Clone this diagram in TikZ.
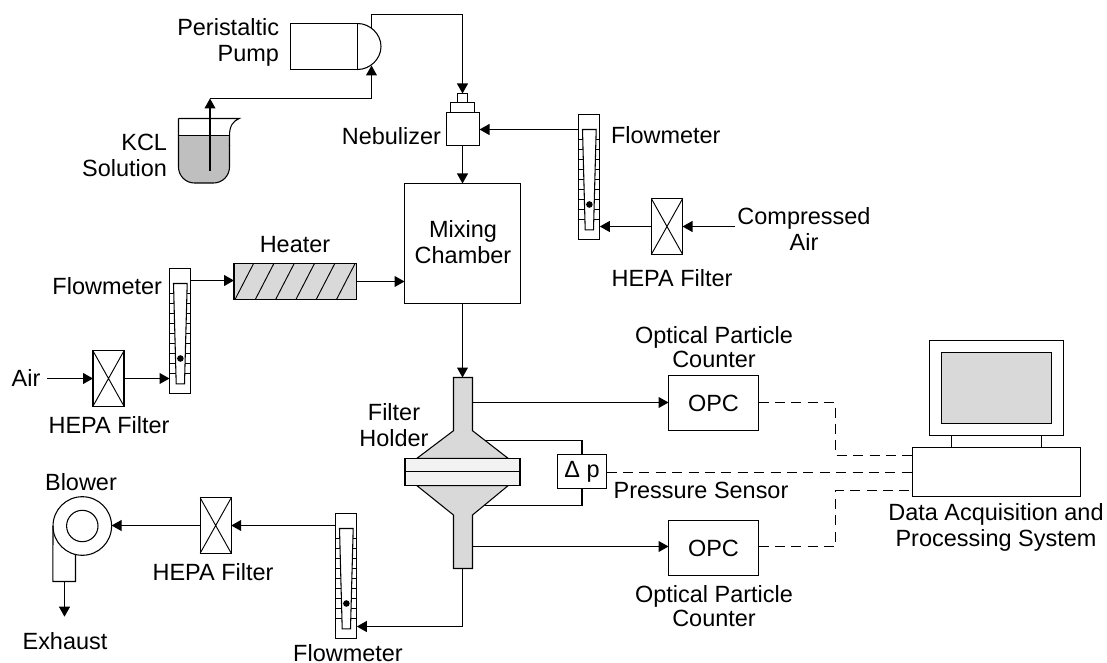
\documentclass[tikz,border=0pt]{standalone}
\usepackage{fontspec}
\setmainfont{Liberation Sans}
\usetikzlibrary{arrows.meta}
\definecolor{fillgrey}{HTML}{D9D9D9}
\definecolor{liquid}{HTML}{BFBFBF}
\definecolor{plate}{HTML}{F2F2F2}
\tikzset{
  boxst/.style={draw,line width=0.8pt,inner sep=0pt,outer sep=0pt,align=center,font=\fontsize{17.6}{19.5}\selectfont},
  lbl/.style={inner sep=0pt,outer sep=0pt,align=center,font=\fontsize{17.6}{19.5}\selectfont},
  lblr/.style={lbl,align=right},
  lblone/.style={inner sep=0pt,outer sep=0pt,font=\fontsize{17.6}{19.5}\selectfont},
  lbltight/.style={inner sep=0pt,outer sep=0pt,align=center,font=\fontsize{17.6}{18.3}\selectfont},
  arr/.style={draw,line width=0.8pt,-{Triangle[length=7.5pt,width=8.2pt]}},
  pipe/.style={draw,line width=0.8pt},
  sig/.style={draw,line width=0.8pt,dash pattern=on 7.5pt off 4.8pt},
}
% [opts]{name}{x1}{y1}{x2}{y2}{text}
\newcommand\bx[7][]{\node[boxst,#1,minimum width={(#5-#3)*0.75pt},minimum height={(#6-#4)*0.75pt}] (#2) at ({(#3+#5)/2},{(#4+#6)/2}) {#7};}
% {name}{x}{y}
\newcommand\hepa[3]{%
  \node[boxst,minimum width={31*0.75pt},minimum height={55.3*0.75pt}] (#1) at (#2,#3) {};
  \draw[line width=0.7pt] (#1.north west) -- (#1.south east) (#1.north east) -- (#1.south west);
}
\newcommand\flowmeter[3]{%
  \node[boxst,minimum width={21.3*0.75pt},minimum height={125.3*0.75pt},anchor=north west] (#1) at (#2,#3) {};
  \begin{scope}[shift={(#2,#3)}]
    \foreach \yy in {25,35,...,105} \draw[line width=0.7pt] (0,\yy) -- (21.3,\yy);
    \draw[line width=0.8pt,fill=white] (4,15) -- (17.7,15) -- (15,115.3) -- (6.7,115.3) -- cycle;
    \node[circle,fill=black,inner sep=0pt,minimum size={6.6*0.75pt}] (#1ball) at (10.9,90) {};
    \coordinate (#1tr) at (21.3,12);
  \end{scope}
}
\begin{document}
\begin{tikzpicture}[x=0.75pt,y=-0.75pt]
\useasboundingbox (0,0) rectangle (1107,663);

% Pump
\bx{pump}{290.5}{23.5}{357.5}{69.5}{}
\draw[line width=0.8pt] (pump.north east) .. controls (370,23.5) and (381,34) .. (381,46.5) .. controls (381,59) and (370,69.5) .. (pump.south east);
\coordinate (pumpout) at (371.5,29.5);
\coordinate (pumpin) at (371.5,65.5);
\node[lblr,anchor=east] (pumplbl) at (279,42) {Peristaltic\\Pump};

% Beaker
\fill[liquid,rounded corners=12pt] (178.7,125) -- (178.7,183) -- (229.3,183) -- (229.3,125) -- cycle;
\fill[white] (170,110) rectangle (240,135.5);
\draw[line width=0.8pt,rounded corners=12pt] (178.5,118.5) -- (178.5,183) -- (229.5,183) -- (229.5,145);
\draw[line width=0.8pt] (229.5,146) -- (229.5,135.5) .. controls (229.5,126) and (233,121) .. (239.3,118.5) -- (178.5,118.5);
\draw[line width=0.8pt] (178.5,135.5) -- (229.5,135.5);
\coordinate (beakerin) at (210,170.7);
\coordinate (beakertop) at (210,98.5);
\node[lblr,anchor=east] (kcl) at (167,155) {KCL\\Solution};
\draw[arr] (beakerin) -- (beakertop);
\draw[pipe] (beakertop) -- (pumpin |- beakertop);
\draw[arr] (pumpin |- beakertop) -- (pumpin);

% Nebulizer
\bx{nebtop}{457.5}{93.5}{467.5}{102.5}{}
\bx{nebmid}{450.5}{102.5}{474.5}{112.5}{}
\bx{neb}{446.5}{112.5}{479.5}{145.5}{}
\node[lbl,anchor=east] (neblbl) at (441,136) {Nebulizer};
\coordinate (pumpup) at (371.5,14.5);
\draw[arr] (pumpout) -- (pumpup) -- (pumpup -| nebtop.north) -- (nebtop.north);

% Mixing chamber
\bx{mix}{404.5}{183.5}{520.5}{303.5}{}
\node[lbl] (mixlbl) at (463,242) {Mixing\\Chamber};
\draw[arr] (neb.south -| nebtop.north) -- (nebtop.north |- mix.north);

% Top flowmeter
\flowmeter{fma}{578.5}{114.5}
\node[lbl,anchor=west] (fmalbl) at (611,135) {Flowmeter};
\draw[arr] (fma.north west |- 0,129.5) -- (neb.east |- 0,129.5);
\hepa{fila}{667}{226.5}
\node[lbl] (filalbl) at (672,278) {HEPA Filter};
\node[lbl] (air1) at (804,229) {Compressed\\Air};
\coordinate (air1out) at (735,226.5);
\draw[arr] (air1out) -- (fila.east);
\draw[arr] (fila.west) -- (fila.west -| fma.east);

% Left flowmeter + heater
\flowmeter{fmb}{169.5}{268.5}
\node[lbl,anchor=east] (fmblbl) at (162,286) {Flowmeter};
\bx[fill=fillgrey]{heat}{234}{263.5}{356.5}{299.5}{}
\foreach \k in {0,...,5} \draw[line width=0.7pt] ({235+\k*20.3},299.5) -- ({235+\k*20.3+18.6},263.5);
\node[lbl] (heatlbl) at (295,245) {Heater};
\draw[arr] (fmbtr) -- (fmbtr -| heat.west);
\draw[arr] (heat.east) -- (heat.east -| mix.west);
\hepa{filb}{108.5}{378.5}
\node[lbl] (filblbl) at (109,425) {HEPA Filter};
\node[lbl] (airlbl) at (26,378) {Air};
\coordinate (airout) at (47,378.5);
\draw[arr] (airout) -- (filb.west);
\draw[arr] (filb.east) -- (filb.east -| fmb.west);

% Filter holder
\draw[line width=0.8pt,fill=fillgrey] (453.5,377.5) -- (472.5,377.5) -- (472.5,430.7) -- (508.3,458.5) -- (416.7,458.5) -- (453.5,430.7) -- cycle;
\draw[line width=0.8pt,fill=fillgrey] (416.7,485.5) -- (508.3,485.5) -- (472.5,515) -- (472.5,568.5) -- (453.5,568.5) -- (453.5,515) -- cycle;
\bx[fill=plate]{platea}{405}{458.5}{520}{471.5}{}
\bx[fill=plate]{plateb}{405}{471.5}{520}{485.5}{}
\coordinate (holdertop) at (462.5,377.5);
\coordinate (holderbot) at (462.5,568.5);
\coordinate (tapa) at (472.5,402.5);
\coordinate (tapb) at (472.5,546.5);
\coordinate (tapc) at (485,440.5);
\coordinate (tapd) at (485,505.5);
\node[lbl] (holderlbl) at (394,425) {Filter\\Holder};
\draw[arr] (mix.south -| holdertop) -- (holdertop);

% Pressure sensor
\bx{dp}{557.5}{454.5}{606.5}{488.5}{Δ p}
\draw[pipe] (tapc) -- (tapc -| dp.north) -- (dp.north);
\draw[pipe] (tapd) -- (tapd -| dp.south) -- (dp.south);
\node[lbl] (dplbl) at (701,490) {Pressure Sensor};

% OPCs
\bx{opca}{668.5}{375.5}{758.5}{430.5}{OPC}
\bx{opcb}{668.5}{520.5}{758.5}{575.5}{OPC}
\node[lbltight] (opcalbl) at (714,347) {Optical Particle\\Counter};
\node[lbltight] (opcblbl) at (714,606) {Optical Particle\\Counter};
\draw[arr] (tapa) -- (tapa -| opca.west);
\draw[arr] (tapb) -- (tapb -| opcb.west);

% Computer
\bx{mon}{929.5}{340.5}{1063.5}{435.5}{}
\bx[fill=fillgrey]{screen}{941.5}{352.5}{1051.5}{423.5}{}
\bx{base}{912.5}{447.5}{1080.5}{496.5}{}
\coordinate (standa) at (951.5,435.5);
\coordinate (standb) at (1041.5,435.5);
\draw[pipe] (standa) -- (standa |- base.north);
\draw[pipe] (standb) -- (standb |- base.north);
\node[lbl] (baselbl) at (996,527) {Data Acquisition and\\Processing System};

% Signals
\coordinate (busa) at (835.5,455.5);
\coordinate (busb) at (835.5,490.5);
\draw[sig] (tapa -| opca.east) -- (tapa -| busa) -- (busa) -- (busa -| base.west);
\draw[sig] (dp.east |- 0,472.5) -- (base.west |- 0,472.5);
\draw[sig] (tapb -| opcb.east) -- (tapb -| busb) -- (busb) -- (busb -| base.west);

% Bottom flowmeter
\flowmeter{fmc}{335.5}{513.5}
\node[lblone] (fmclbl) at (348,653) {Flowmeter};
\coordinate (corner) at (462.5,626.5);
\draw[pipe] (holderbot) -- (corner);
\draw[arr] (corner) -- (corner -| fmc.east);
\hepa{filc}{215.7}{525.5}
\node[lbl] (filclbl) at (213,572) {HEPA Filter};
\coordinate (fmcout) at (335.5,525.5);
\draw[arr] (fmcout) -- (filc.east);

% Blower
\node[draw,line width=0.8pt,circle,inner sep=0pt,outer sep=0pt,minimum size={58.6*0.75pt}] (blow) at (82.3,526) {};
\node[draw,line width=0.8pt,circle,inner sep=0pt,outer sep=0pt,minimum size={31.4*0.75pt}] (blowin) at (82.3,526) {};
\coordinate (ducta) at (52.9,581.5);
\coordinate (ductb) at (75.5,581.5);
\coordinate (ductc) at (75.5,554.5);
\draw[pipe] (blow.west) -- (ducta) -- (ductb) -- (ductc);
\coordinate (ductout) at (64.5,581.5);
\coordinate (exh) at (64.5,616.7);
\draw[arr] (ductout) -- (exh);
\draw[arr] (filc.west) -- (filc.west -| blow.east);
\node[lbl] (blowlbl) at (81,482) {Blower};
\node[lbl] (exhlbl) at (65,641) {Exhaust};
\end{tikzpicture}
\end{document}
